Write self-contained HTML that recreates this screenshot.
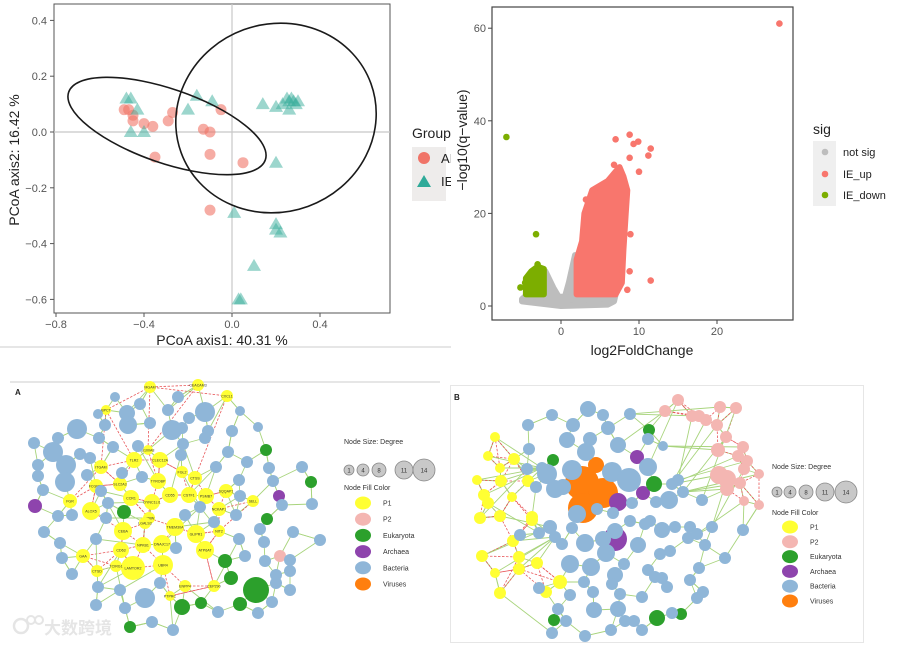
<!DOCTYPE html>
<html><head><meta charset="utf-8"><style>
html,body{margin:0;padding:0;background:#fff;}
svg{display:block;font-family:"Liberation Sans","Noto Sans CJK SC",sans-serif;}
</style></head><body>
<svg id="s" width="900" height="645" viewBox="0 0 900 645" xmlns="http://www.w3.org/2000/svg">
<defs><clipPath id="cl"><rect x="0" y="0" width="451" height="350"/></clipPath></defs>
<g id="pcoa" clip-path="url(#cl)"></g>
<line x1="0" y1="347" x2="451" y2="347" stroke="#ccc" stroke-width="1"/>
<g id="volc"></g>
<g id="netA"></g>
<g id="netB"></g>
</svg>
<script>
// ---------- PCoA data ----------
const aiX=[-0.49,-0.47,-0.45,-0.45,-0.40,-0.36,-0.35,-0.29,-0.27,-0.13,-0.10,-0.10,-0.05,0.05,-0.10];
const aiY=[0.08,0.08,0.04,0.06,0.03,0.02,-0.09,0.04,0.07,0.01,0.00,-0.08,0.08,-0.11,-0.28];
const ieX=[-0.48,-0.46,-0.43,-0.46,-0.40,-0.20,-0.16,-0.09,0.14,0.20,0.23,0.25,0.26,0.27,0.28,0.29,0.30,0.26,0.20,0.01,0.20,0.20,0.22,0.10,0.04,0.03];
const ieY=[0.12,0.12,0.08,0.00,0.00,0.08,0.13,0.11,0.10,0.09,0.10,0.12,0.11,0.12,0.11,0.10,0.11,0.08,-0.11,-0.29,-0.33,-0.35,-0.36,-0.48,-0.60,-0.60];
const pcoaXTicks=[-0.8,-0.4,0.0,0.4];
const pcoaYTicks=[0.4,0.2,0.0,-0.2,-0.4,-0.6];
// ---------- Volcano data ----------
const upX=[28,7,8.8,9.3,9.9,11.5,11.2,8.8,6.8,10,8.9,11.5,8.5,8.8,3.2,6.5,7.6,8.2];
const upY=[61,36,37,35,35.5,34,32.5,32,30.5,29,15.5,5.5,3.5,7.5,23,26,29,25];
const downX=[-7,-3.2,-5.2,-3.0,-4.6];
const downY=[36.5,15.5,4,9,5];
const upAreaX=[2,2,2.7,3,4,5,6,7.5,8,8.5,8.3,8,7.8,7,2];
const upAreaY=[2.5,10,14,20,25,26,27,30,28,25,20,12,5,2.5,2.5];
const nsAreaX=[-5,-4,-2,-1,-0.3,0.5,1,1.8,2,2,7,6.8,6,0,-5];
const nsAreaY=[1.5,3,7.5,4,2,2,5,11,11,2.5,2.5,1,0.3,0,1];
const dnAreaX=[-4.5,-4.5,-3.8,-3,-2.2,-2.2];
const dnAreaY=[2.5,6,7.5,8.5,8,2.5];
const volXTicks=[0,10,20];
const volYTicks=[0,20,40,60];

const NS='http://www.w3.org/2000/svg';
function mk(tag,attrs,parent,txt){const e=document.createElementNS(NS,tag);for(const k in attrs)e.setAttribute(k,attrs[k]);if(txt!==undefined)e.textContent=txt;parent.appendChild(e);return e;}

// PCoA axes
const px=v=>232+v*220, py=v=>132-v*279;
const P=document.getElementById('pcoa');
mk('rect',{x:54,y:4,width:336,height:309,fill:'#fff',stroke:'#555','stroke-width':1},P);
let g=mk('line',{x1:px(0),y1:4,x2:px(0),y2:313,stroke:'#c8c8c8','stroke-width':1.2},P);

g=mk('line',{x1:54,y1:py(0),x2:390,y2:py(0),stroke:'#c8c8c8','stroke-width':1.2},P);

pcoaXTicks.forEach(t=>{mk('line',{x1:px(t),y1:313,x2:px(t),y2:317,stroke:'#555'},P);
 const e=mk('text',{x:px(t),y:328,'text-anchor':'middle','font-size':11,fill:'#555'},P,t.toFixed(1).replace('-','\u2212'));
 });
pcoaYTicks.forEach(t=>{mk('line',{x1:50,y1:py(t),x2:54,y2:py(t),stroke:'#555'},P);
 const e=mk('text',{x:47,y:py(t)+4,'text-anchor':'end','font-size':11,fill:'#555'},P,t.toFixed(1).replace('-','\u2212'));
 });
g=mk('text',{x:222,y:345,'text-anchor':'middle','font-size':14,fill:'#222'},P,'PCoA axis1:  40.31 %');

g=mk('text',{x:0,y:0,'text-anchor':'middle','font-size':14,fill:'#222',transform:'translate(19,160) rotate(-90)'},P,'PCoA axis2:  16.42 %');

aiX.forEach((v,i)=>{const e=mk('circle',{cx:px(v),cy:py(aiY[i]),r:5.5,fill:'#F07468','fill-opacity':0.6},P);
 });
ieX.forEach((v,i)=>{const x=px(v),y=py(ieY[i]);const e=mk('polygon',{points:`${x},${y-7} ${x-7},${y+5} ${x+7},${y+5}`,fill:'#3AAE9C','fill-opacity':0.5},P);
 });
g=mk('ellipse',{cx:167,cy:126,rx:104,ry:37,transform:'rotate(19 167 126)',fill:'none',stroke:'#1a1a1a','stroke-width':1.6},P);

g=mk('ellipse',{cx:276,cy:118,rx:101,ry:94,transform:'rotate(-20 276 118)',fill:'none',stroke:'#1a1a1a','stroke-width':1.6},P);

g=mk('text',{x:412,y:138,'font-size':14,fill:'#222'},P,'Group');

mk('rect',{x:412,y:147,width:34,height:54,fill:'#eeeceb'},P);
mk('circle',{cx:424,cy:158,r:6,fill:'#F07468'},P);
mk('polygon',{points:'424,175 417,187 431,187',fill:'#2FAA99'},P);
g=mk('text',{x:441,y:163,'font-size':13,fill:'#222'},P,'AI');
g=mk('text',{x:441,y:186,'font-size':13,fill:'#222'},P,'IE');

// Volcano
const vx=v=>561+v*7.8, vy=v=>306-v*4.63;
const V=document.getElementById('volc');
mk('rect',{x:492,y:7,width:301,height:313,fill:'#fff',stroke:'#444','stroke-width':1.2},V);
volXTicks.forEach(t=>{mk('line',{x1:vx(t),y1:320,x2:vx(t),y2:324,stroke:'#444'},V);
 const e=mk('text',{x:vx(t),y:335,'text-anchor':'middle','font-size':11,fill:'#555'},V,String(t));
 });
volYTicks.forEach(t=>{mk('line',{x1:488,y1:vy(t),x2:492,y2:vy(t),stroke:'#444'},V);
 const e=mk('text',{x:486,y:vy(t)+4,'text-anchor':'end','font-size':11,fill:'#555'},V,String(t));
 });
function area(xs,ys,col,name){const pts=xs.map((v,i)=>vx(v)+','+vy(ys[i])).join(' ');
 const e=mk('polygon',{points:pts,fill:col,stroke:col,'stroke-width':6,'stroke-linejoin':'round'},V);
 }
area(nsAreaX,nsAreaY,'#bdbdbd','not-sig-cloud');
area(upAreaX,upAreaY,'#F8766D','ie-up-cloud');
area(dnAreaX,dnAreaY,'#7CAE00','ie-down-cloud');
upX.forEach((v,i)=>{const e=mk('circle',{cx:vx(v),cy:vy(upY[i]),r:3.3,fill:'#F8766D'},V);
 });
downX.forEach((v,i)=>{const e=mk('circle',{cx:vx(v),cy:vy(downY[i]),r:3.3,fill:'#7CAE00'},V);
 });
g=mk('text',{x:642,y:355,'text-anchor':'middle','font-size':14,fill:'#222'},V,'log2FoldChange');

g=mk('text',{x:0,y:0,'text-anchor':'middle','font-size':14,fill:'#222',transform:'translate(467,140) rotate(-90)'},V,'\u2212log10(q\u2212value)');

g=mk('text',{x:813,y:134,'font-size':14,fill:'#222'},V,'sig');
mk('rect',{x:813,y:141,width:23,height:65,fill:'#efefef'},V);
[['not sig','#bdbdbd',152],['IE_up','#F8766D',174],['IE_down','#7CAE00',195]].forEach(d=>{
 mk('circle',{cx:825,cy:d[2],r:3.3,fill:d[1]},V);
 const e=mk('text',{x:843,y:d[2]+4,'font-size':11,fill:'#222'},V,d[0]);
 });

// ---------- Networks ----------
const COL={Y:'#ffff33',B:'#8fb6d8',G:'#2ca02c',P:'#8e44ad',K:'#f4b6b2',O:'#ff7f0e'};
const nodesA=[
['Y',150,387,6,'MGAM'],['Y',198,385,6,'CEACAM3'],['Y',227,396,6,'CXCL1'],['Y',106,410,5,'BPCT'],['Y',148,450,5,'S100A8'],['Y',134,460,8,'TLR2'],['Y',160,460,8,'CLEC12A'],['Y',101,467,7,'ITGAM'],['Y',182,472,6,'FGL2'],['Y',195,478,7,'CTSS'],['Y',158,481,8,'TYROBP'],['Y',120,484,7,'SLC2A3'],['Y',96,486,7,'FCGR2A'],['Y',170,495,8,'CD55'],['Y',189,495,8,'CSTF1'],['Y',206,496,8,'PSMB7'],['Y',226,491,7,'SQQAP1'],['Y',131,498,8,'CCR1'],['Y',152,502,8,'DYNC1LI1'],['Y',70,501,7,'FGR'],['Y',253,501,6,'SELL'],['Y',219,509,7,'NCKAP1'],['Y',91,511,9,'ALOX5'],['Y',149,518,6,'SPBW'],['Y',145,523,6,'LGALS3'],['Y',175,527,9,'TMEM30A'],['Y',123,531,9,'CEBA'],['Y',196,534,9,'GLIPR1'],['Y',219,531,6,'NIT2'],['Y',143,545,8,'NPKB1'],['Y',162,544,9,'DNAJC17'],['Y',121,550,8,'CD63'],['Y',205,550,9,'ATP6AT'],['Y',83,556,7,'GAA'],['Y',163,565,10,'UBR4'],['Y',133,568,12,'LAMTOR2'],['Y',116,566,6,'TCIRG1'],['Y',97,571,6,'CTSD'],['Y',185,586,6,'ENPP4'],['Y',214,586,6,'CEP290'],['Y',170,596,5,'PTPRC'],
['G',124,512,7],['G',266,450,6],['G',311,482,6],['G',267,519,6],['G',225,561,7],['G',231,578,7],['G',256,590,13],['G',240,604,7],['G',201,603,6],['G',182,607,8],['G',130,627,6],
['P',35,506,7],['P',279,496,6],['K',280,556,6],
['B',115,397,5],['B',140,404,6],['B',178,397,6],['B',205,412,10],['B',240,411,5],['B',98,414,5],['B',127,413,8],['B',168,410,6],['B',189,418,6],['B',105,425,6],['B',128,425,9],['B',150,423,6],['B',182,428,6],['B',172,430,10],['B',77,429,10],['B',58,438,6],['B',34,443,6],['B',99,438,6],['B',208,431,6],['B',232,431,6],['B',258,427,5],['B',205,438,6],['B',183,444,6],['B',138,446,6],['B',53,452,10],['B',80,454,6],['B',113,447,6],['B',181,455,6],['B',228,452,6],['B',38,465,6],['B',66,465,10],['B',90,458,6],['B',247,462,6],['B',269,468,6],['B',216,467,6],['B',302,467,6],['B',38,476,6],['B',87,475,6],['B',122,473,6],['B',142,477,6],['B',65,482,10],['B',239,480,6],['B',43,490,6],['B',101,491,6],['B',273,481,6],['B',282,505,6],['B',240,496,6],['B',312,504,6],['B',108,503,6],['B',200,507,6],['B',185,515,6],['B',236,515,6],['B',58,516,6],['B',106,518,6],['B',214,522,6],['B',72,515,6],['B',260,529,6],['B',44,532,6],['B',96,539,6],['B',176,548,6],['B',239,539,6],['B',264,542,6],['B',293,532,6],['B',320,540,6],['B',60,543,6],['B',245,556,6],['B',62,558,6],['B',265,561,6],['B',290,560,6],['B',276,583,6],['B',72,574,6],['B',98,587,6],['B',120,590,6],['B',290,590,6],['B',276,575,6],['B',290,571,6],['B',96,605,6],['B',145,598,10],['B',125,608,6],['B',160,583,6],['B',218,612,6],['B',272,602,6],['B',258,613,6],['B',152,622,6],['B',173,630,6]];
const nodesB=[
['O',582,483,17],['O',603,493,15],['O',583,508,15],['O',596,465,8],
['P',637,457,7],['P',643,493,7],['P',618,502,9],['P',615,539,12],
['G',553,460,6],['G',649,430,6],['G',654,484,8],['G',554,620,6],['G',657,618,8],['G',681,614,6],
['K',678,400,6],['K',692,416,6],['K',665,411,6],['K',699,416,6],['K',717,425,6],['K',720,407,6],['K',706,420,6],['K',736,408,6],['K',726,437,6],['K',718,450,7],['K',743,447,6],['K',719,475,9],['K',727,479,9],['K',727,489,7],['K',747,461,6],['K',744,469,6],['K',740,483,6],['K',744,501,5],['K',759,474,5],['K',759,505,5],['K',738,456,6],
['Y',495,437,5],['Y',488,456,5],['Y',514,459,6],['Y',500,468,5],['Y',477,480,5],['Y',501,481,6],['Y',528,481,6],['Y',484,495,6],['Y',512,497,5],['Y',488,503,6],['Y',500,516,6],['Y',532,517,6],['Y',480,518,6],['Y',532,520,6],['Y',513,541,6],['Y',482,556,6],['Y',519,557,6],['Y',537,563,6],['Y',519,569,6],['Y',495,573,5],['Y',560,582,7],['Y',500,593,6],['Y',546,592,6],
['B',588,409,8],['B',552,415,6],['B',603,415,6],['B',630,414,6],['B',528,425,6],['B',573,425,7],['B',608,428,7],['B',567,440,8],['B',648,439,6],['B',618,445,8],['B',590,439,7],['B',586,452,9],['B',529,449,6],['B',663,446,5],['B',542,468,6],['B',527,469,6],['B',547,474,10],['B',572,470,10],['B',612,472,10],['B',648,467,9],['B',629,480,12],['B',678,480,6],['B',672,484,6],['B',563,487,8],['B',683,492,6],['B',536,487,6],['B',555,489,9],['B',656,502,6],['B',669,500,9],['B',577,514,9],['B',702,500,6],['B',597,509,6],['B',613,513,6],['B',632,503,6],['B',630,521,6],['B',650,521,6],['B',615,531,8],['B',645,524,6],['B',675,527,6],['B',662,530,8],['B',550,527,7],['B',572,528,6],['B',539,533,6],['B',562,544,6],['B',555,537,6],['B',690,527,6],['B',520,535,6],['B',585,543,9],['B',603,539,8],['B',606,553,9],['B',638,545,8],['B',688,538,6],['B',697,534,6],['B',660,554,6],['B',670,551,6],['B',712,527,6],['B',705,545,6],['B',743,530,6],['B',725,558,6],['B',655,577,6],['B',615,575,8],['B',570,564,9],['B',591,567,9],['B',624,564,6],['B',648,570,6],['B',662,578,6],['B',612,584,6],['B',584,582,6],['B',570,595,6],['B',593,592,6],['B',620,594,6],['B',642,597,6],['B',667,587,6],['B',697,598,6],['B',690,580,6],['B',699,568,6],['B',703,592,6],['B',594,610,8],['B',539,588,6],['B',558,609,6],['B',618,609,8],['B',634,621,6],['B',611,630,6],['B',552,633,6],['B',566,621,6],['B',642,630,6],['B',672,613,6],['B',585,636,6],['B',625,621,6]];

function drawNet(root,nodes,label,lx,ly,leg){
 const R=document.getElementById(root);
 const d2=(a,b)=>(a[1]-b[1])**2+(a[2]-b[2])**2;
 const eg=mk('g',{},R);
 nodes.forEach((n,i)=>{
  const order=nodes.map((m,j)=>[d2(n,m),j]).filter(q=>q[1]!==i).sort((a,b)=>a[0]-b[0]);
  order.slice(0,2).forEach(q=>{const m=nodes[q[1]];
   const e=mk('line',{x1:n[1],y1:n[2],x2:m[1],y2:m[2],stroke:'#a8d47c','stroke-width':0.9},eg);
   });
  if(n[0]==='Y'||n[0]==='K'){const far=order.filter(q=>nodes[q[1]][0]===n[0]).slice(1,3);
   far.forEach(q=>{const m=nodes[q[1]];
   const e=mk('line',{x1:n[1],y1:n[2],x2:m[1],y2:m[2],stroke:'#e8575a','stroke-width':0.8,'stroke-dasharray':'2.5,1.5'},eg);
   });
   const o=order.filter(q=>nodes[q[1]][0]==='B')[3];
   if(o){const m=nodes[o[1]];const e=mk('line',{x1:n[1],y1:n[2],x2:m[1],y2:m[2],stroke:'#a8d47c','stroke-width':0.9},eg);
   }
  }
 });
 nodes.forEach(n=>{const c=mk('circle',{cx:n[1],cy:n[2],r:n[3],fill:COL[n[0]]},R);
  
  if(n[4]){const t=mk('text',{x:n[1],y:n[2]+1.5,'text-anchor':'middle','font-size':3.6,fill:'#333'},R,n[4]);
   }});
 let t=mk('text',{x:lx,y:ly,'font-size':8,'font-weight':'bold',fill:'#222'},R,label);
 
 const [x0,y0,dy,sizeX,sizeY,itemX,itemY]=leg;
 t=mk('text',{x:x0,y:y0,'font-size':7,fill:'#333'},R,'Node Size:  Degree');
 
 [1,4,8,11,14].forEach((v,i)=>{const rr=[5,6,7,9,11][i];
  mk('circle',{cx:sizeX[i],cy:sizeY,r:rr,fill:'#c8c8c8',stroke:'#888','stroke-width':0.8},R);
  const e=mk('text',{x:sizeX[i],y:sizeY+2.5,'text-anchor':'middle','font-size':6,fill:'#333'},R,String(v));
  });
 t=mk('text',{x:x0,y:y0+ (root==='netA'?46:46),'font-size':7,fill:'#333'},R,'Node Fill Color');
 
 [['P1','Y'],['P2','K'],['Eukaryota','G'],['Archaea','P'],['Bacteria','B'],['Viruses','O']].forEach((d,i)=>{
  mk('ellipse',{cx:itemX,cy:itemY+i*dy,rx:8,ry:6.5,fill:COL[d[1]]},R);
  const e=mk('text',{x:itemX+20,y:itemY+i*dy+2.5,'font-size':7,fill:'#333'},R,d[0]);
  });
}
const A=document.getElementById('netA');
mk('line',{x1:10,y1:382,x2:440,y2:382,stroke:'#ccc','stroke-width':1},A);
const B=document.getElementById('netB');
mk('rect',{x:450.5,y:385.5,width:413,height:257,fill:'#fff',stroke:'#e6e6e6','stroke-width':1},B);
drawNet('netA',nodesA,'A',15,395,[344,444,16.2,[349,363,379,404,424],470,363,503]);
drawNet('netB',nodesB,'B',454,400,[772,469,14.8,[777,790,806,825,846],492,790,527]);
// watermark
const W=mk('g',{opacity:0.75},A);

mk('circle',{cx:21,cy:626,r:7,fill:'none',stroke:'#ddd','stroke-width':2.5},W);
mk('circle',{cx:31,cy:620,r:4,fill:'none',stroke:'#ddd','stroke-width':2},W);
mk('circle',{cx:39,cy:620,r:4,fill:'none',stroke:'#ddd','stroke-width':2},W);
mk('text',{x:44,y:634,'font-size':17,fill:'#ddd','font-weight':'bold'},W,'大数跨境');
</script>
</body></html>
